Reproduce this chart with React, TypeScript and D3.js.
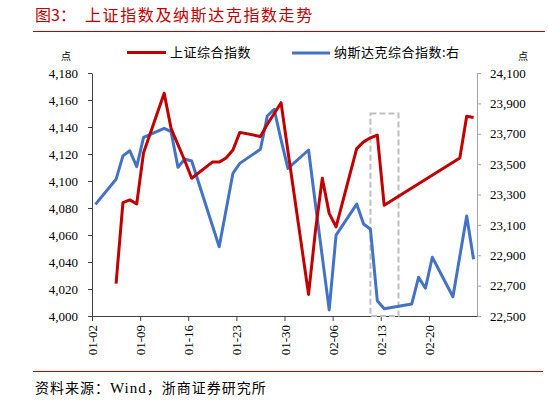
import React, { useEffect, useRef } from 'react';
import * as d3 from 'd3';

// 上证综合指数 (left axis)
const shDates = [
  '01-05', '01-06', '01-07', '01-08', '01-09', '01-12', '01-13', '01-14', '01-15', '01-16',
  '01-19', '01-20', '01-21', '01-22', '01-23', '01-26', '01-27', '01-28', '01-29', '01-30',
  '02-02', '02-03', '02-04', '02-05', '02-06', '02-09', '02-10', '02-11', '02-12', '02-13',
  '02-24', '02-25', '02-26',
];
const shValues = [
  4024, 4084, 4086, 4083, 4121, 4165, 4139, 4127, 4115, 4102,
  4114, 4114, 4117, 4123, 4136, 4133, 4142, 4150, 4158, 4122,
  4016, 4063, 4102, 4076, 4066, 4124, 4129, 4132, 4134, 4082,
  4117, 4148, 4147,
];

// 纳斯达克综合指数 (right axis)
const nqDates = [
  '01-02', '01-05', '01-06', '01-07', '01-08', '01-09', '01-12', '01-13', '01-14', '01-15',
  '01-16', '01-20', '01-21', '01-22', '01-23', '01-26', '01-27', '01-28', '01-29', '01-30',
  '02-02', '02-03', '02-04', '02-05', '02-06', '02-09', '02-10', '02-11', '02-12', '02-13',
  '02-17', '02-18', '02-19', '02-20', '02-23', '02-24', '02-25', '02-26',
];
const nqValues = [
  23235, 23400, 23554, 23588, 23483, 23676, 23736, 23714, 23479, 23534,
  23521, 22956, 23198, 23440, 23505, 23598, 23817, 23861, 23660, 23472,
  23593, 23236, 22889, 22540, 23033, 23237, 23106, 23071, 22601, 22548,
  22579, 22755, 22683, 22887, 22627, 22893, 23158, 22873,
];

const leftTicks = [4000, 4020, 4040, 4060, 4080, 4100, 4120, 4140, 4160, 4180];
const rightTicks = [22500, 22700, 22900, 23100, 23300, 23500, 23700, 23900, 24100];
const xTickLabels = ['01-02', '01-09', '01-16', '01-23', '01-30', '02-06', '02-13', '02-20'];
const xDomain = ['01-02', '02-27'];
const seriesNames = ['上证综合指数', '纳斯达克综合指数:右'];
// highlighted holiday window (dates, left-axis values)
const boxDates = ['02-11T12', '02-15T14'];
const boxValues = [4000, 4150];

const YEAR = '2026';
const parseDay = d3.timeParse('%Y-%m-%d');
const parseHour = d3.timeParse('%Y-%m-%dT%H');
const day = (s: string) => parseDay(`${YEAR}-${s}`) as Date;
const hour = (s: string) => parseHour(`${YEAR}-${s}`) as Date;
const mid = (s: string) => d3.timeHour.offset(day(s), 12);

const RED = '#c00000';
const BLUE = '#4472c4';
const SERIF = "'Liberation Serif', 'Times New Roman', serif";
const CJK = "'Noto Sans CJK SC', sans-serif";

export default function App() {
  const ref = useRef<SVGGElement>(null);

  const width = 548;
  const height = 401;
  const plot = { left: 92, right: 477, top: 73, bottom: 316 };

  const x = d3.scaleTime()
    .domain([day(xDomain[0]), day(xDomain[1])])
    .range([plot.left, plot.right]);
  const yL = d3.scaleLinear().domain([4000, 4180]).range([plot.bottom, plot.top]);
  const yR = d3.scaleLinear().domain([22500, 24100]).range([plot.bottom, plot.top]);

  useEffect(() => {
    const g = d3.select(ref.current);
    g.selectAll('*').remove();

    // axes
    const left = g.append('g')
      .attr('transform', `translate(${plot.left},0)`)
      .call(d3.axisLeft(yL).tickValues(leftTicks).tickSize(4).tickSizeOuter(0)
        .tickPadding(10).tickFormat(d3.format(',')));
    left.select('.domain').attr('stroke', '#404040');
    left.selectAll('.tick line').attr('stroke', '#404040');

    const right = g.append('g')
      .attr('transform', `translate(${plot.right},0)`)
      .call(d3.axisRight(yR).tickValues(rightTicks).tickSize(4).tickSizeOuter(0)
        .tickPadding(9).tickFormat(d3.format(',')));
    right.select('.domain').attr('stroke', '#a6a6a6');
    right.selectAll('.tick line').attr('stroke', '#a6a6a6');

    const bottom = g.append('g')
      .attr('transform', `translate(0,${plot.bottom})`)
      .call(d3.axisBottom(x).tickValues(xTickLabels.map(day)).tickSize(5).tickSizeOuter(0)
        .tickFormat(d3.timeFormat('%m-%d') as any));
    bottom.select('.domain').attr('stroke', '#404040');
    bottom.selectAll('.tick line').attr('stroke', '#404040');
    bottom.selectAll('.tick text')
      .attr('transform', 'rotate(-90)')
      .attr('x', -9)
      .attr('y', 0)
      .attr('dy', '0.35em')
      .style('text-anchor', 'end');

    [left, right, bottom].forEach(a => a.attr('font-family', null).attr('font-size', null));
    g.selectAll('.tick text')
      .attr('fill', '#000')
      .style('font-family', SERIF)
      .style('font-size', '13px');

    // dashed highlight box
    g.append('rect')
      .attr('x', x(hour(boxDates[0])))
      .attr('y', yL(boxValues[1]))
      .attr('width', x(hour(boxDates[1])) - x(hour(boxDates[0])))
      .attr('height', yL(boxValues[0]) - yL(boxValues[1]))
      .attr('fill', 'none')
      .attr('stroke', '#bfbfbf')
      .attr('stroke-width', 2)
      .attr('stroke-dasharray', '6 3');

    // series
    const lineL = d3.line<number>()
      .x((_, i) => x(mid(shDates[i])))
      .y(d => yL(d));
    const lineR = d3.line<number>()
      .x((_, i) => x(mid(nqDates[i])))
      .y(d => yR(d));

    g.append('path')
      .attr('d', lineR(nqValues))
      .attr('fill', 'none')
      .attr('stroke', BLUE)
      .attr('stroke-width', 3)
      .attr('stroke-linejoin', 'round');

    g.append('path')
      .attr('d', lineL(shValues))
      .attr('fill', 'none')
      .attr('stroke', RED)
      .attr('stroke-width', 3)
      .attr('stroke-linejoin', 'round');
  }, []);

  return (
    <svg width={width} height={height}
      style={{ position: 'absolute', left: 0, top: 0, background: '#fff' }}>
      {/* title */}
      <text x={35} y={21} fill={RED} fontFamily={CJK} fontSize={16}>图3：</text>
      <text x={85} y={21} fill={RED} fontFamily={CJK} fontSize={16} letterSpacing={1.6}>
        上证指数及纳斯达克指数走势
      </text>
      <line x1={33} x2={545} y1={31.5} y2={31.5} stroke={RED} strokeWidth={1} />

      {/* units */}
      <text x={66} y={60} fontFamily={CJK} fontSize={10} textAnchor="middle">点</text>
      <text x={523} y={60} fontFamily={CJK} fontSize={10} textAnchor="middle">点</text>

      {/* legend */}
      <line x1={127} x2={166} y1={52.5} y2={52.5} stroke={RED} strokeWidth={3} />
      <text x={170} y={57} fontFamily={CJK} fontSize={13} letterSpacing={0.5}>{seriesNames[0]}</text>
      <line x1={292} x2={330} y1={53} y2={53} stroke={BLUE} strokeWidth={3} />
      <text x={334} y={57} fontFamily={CJK} fontSize={13} letterSpacing={0.5}>{seriesNames[1]}</text>

      <g ref={ref} />

      {/* footer */}
      <line x1={33} x2={543} y1={371.5} y2={371.5} stroke={RED} strokeWidth={1} />
      <text x={35} y={393} fontFamily={CJK} fontSize={14} letterSpacing={1}>
        资料来源：<tspan fontFamily={SERIF} fontSize={15}>Wind</tspan>，浙商证券研究所
      </text>
    </svg>
  );
}
